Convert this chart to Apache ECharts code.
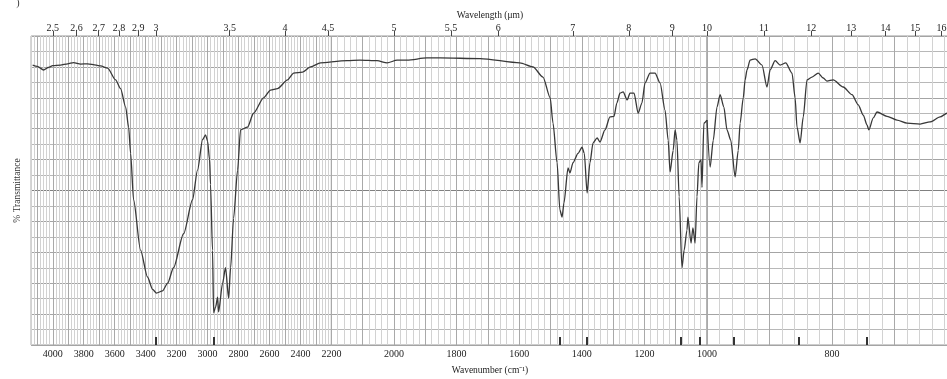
<!DOCTYPE html>
<html>
<head>
<meta charset="utf-8">
<title>IR spectrum</title>
<script src="https://cdn.jsdelivr.net/npm/echarts@6/dist/echarts.min.js"></script>
<style>
    html, body { margin: 0; padding: 0; background: #fff; }
    #chart { width: 947px; height: 379px; }
</style>
</head>
<body>
<div id="chart"></div>
<script>
// Spectrum trace: wavenumber (cm-1) and % transmittance
const wavenumber = [
    4130, 4100, 4059, 4030, 4000, 3950, 3904, 3866, 3820, 3775, 3720, 3691, 3646, 3594, 3562,
    3529, 3510, 3497, 3478, 3433, 3388, 3355, 3330, 3291, 3258, 3220, 3155, 3097, 3065, 3032,
    3013, 3000, 2987, 2981, 2968, 2961, 2948, 2935, 2929, 2903, 2884, 2864, 2851, 2832, 2806,
    2787, 2742, 2703, 2638, 2593, 2548, 2483, 2444, 2386, 2335, 2270, 2200, 2150, 2109, 2054,
    2022, 1990, 1958, 1895, 1853, 1725, 1598, 1556, 1524, 1501, 1492, 1479, 1470, 1463, 1457,
    1444, 1438, 1428, 1412, 1399, 1392, 1383, 1374, 1364, 1351, 1342, 1326, 1310, 1297, 1288,
    1278, 1268, 1255, 1246, 1233, 1220, 1208, 1198, 1182, 1166, 1150, 1134, 1124, 1118, 1108,
    1102, 1096, 1089, 1080, 1073, 1064, 1061, 1051, 1045, 1038, 1032, 1026, 1019, 1016, 1010,
    1000, 995, 990, 984, 979, 973, 968, 962, 955, 950, 947, 942, 939, 936, 931,
    923, 912, 904, 899, 891, 883, 874, 864, 859, 856, 851, 846, 840, 832, 822,
    814, 808, 798, 782, 768, 758, 750, 744, 741, 734, 728, 712, 696, 680, 659,
    643, 627, 616, 605
];
const transmittance = [
    90.6, 90.2, 89.0, 89.8, 90.4, 90.6, 91.0, 91.4, 90.9, 91.0, 90.6, 90.3, 89.6, 85.8, 83.0,
    77.0, 70.5, 62.0, 47.0, 30.7, 22.0, 18.0, 16.8, 17.5, 20.0, 25.0, 36.0, 47.0, 56.6, 66.5,
    68.0, 66.0, 60.0, 52.0, 30.7, 10.4, 12.3, 15.5, 10.7, 20.0, 25.0, 15.2, 25.0, 41.0, 56.6,
    69.6, 70.5, 75.0, 80.0, 82.5, 83.0, 85.8, 88.0, 88.3, 90.0, 91.3, 91.6, 92.0, 92.2, 92.0,
    91.3, 92.2, 92.2, 92.9, 92.9, 92.7, 91.3, 90.0, 86.7, 80.0, 71.8, 59.0, 43.7, 41.4, 46.0,
    57.3, 55.7, 59.0, 62.0, 64.0, 62.0, 49.2, 59.0, 65.4, 67.0, 65.7, 69.6, 73.8, 74.0, 78.3,
    81.5, 81.9, 79.3, 81.5, 81.5, 75.0, 78.3, 84.8, 88.0, 88.0, 84.8, 76.0, 66.3, 56.0, 63.0,
    69.6, 66.3, 48.0, 25.0, 30.7, 37.2, 41.4, 33.0, 37.9, 33.0, 48.0, 59.0, 60.0, 51.0, 71.8,
    72.8, 57.6, 66.3, 77.0, 81.0, 77.0, 69.6, 66.3, 54.4, 63.0, 71.8, 80.0, 85.8, 89.0, 92.2,
    92.6, 90.6, 83.5, 89.0, 92.0, 90.6, 91.3, 88.0, 80.0, 70.5, 65.4, 73.8, 85.8, 86.7, 88.0,
    86.4, 85.4, 85.8, 83.5, 81.0, 77.7, 74.4, 71.2, 69.6, 73.5, 75.4, 74.0, 72.8, 71.8, 71.5,
    72.2, 73.8, 75.0, 76.0
];

// Short bold marks along the bottom edge under the main bands
const peakMarks = [3335, 2961, 1470, 1383, 1083, 1022, 958, 854, 744];

// Tick labels
const wavenumberLabels = [4000, 3800, 3600, 3400, 3200, 3000, 2800, 2600, 2400, 2200,
    2000, 1800, 1600, 1400, 1200, 1000, 800, 600];
const wavelengthLabels = [2.5, 2.6, 2.7, 2.8, 2.9, 3, 3.5, 4, 4.5, 5, 5.5, 6, 7, 8, 9, 10,
    11, 12, 13, 14, 15, 16];

// The chart paper changes scale at 2200 and 1000 cm-1, so it is drawn as three panels
const panels = [
    { from: 4140, to: 2200, left: 31.1, width: 300.3 },
    { from: 2200, to: 1000, left: 331.4, width: 375.6 },
    { from: 1000, to: 600, left: 707, width: 250 }
];

const FONT = 'Liberation Serif';
const TOP = 36;
const HEIGHT = 309;

// every 5th vertical line (100 cm-1) is darker
const vLineColors = ['#a9a9a9', '#d2d2d2', '#d2d2d2', '#d2d2d2', '#d2d2d2'];
// horizontal lines every 5 %, the 50 % line darker
const hLineColors = [];
for (let i = 0; i <= 20; i++) hLineColors.push(i === 10 ? '#808080' : (i % 2 === 0 ? '#a4a4a4' : '#b8b8b8'));

const chart = echarts.init(document.getElementById('chart'));

const grid = [];
const xAxis = [];
const yAxis = [];
const series = [];

panels.forEach((p, i) => {
    const inPanel = v => v < p.from && v >= p.to;

    grid.push({
        left: p.left,
        width: p.width,
        top: TOP,
        height: HEIGHT,
        show: true,
        borderColor: '#9a9a9a',
        borderWidth: 1,
        outerBoundsMode: 'none',
        containLabel: false
    });

    // bottom: wavenumber
    xAxis.push({
        type: 'value',
        gridIndex: i,
        position: 'bottom',
        min: p.to,
        max: p.from,
        interval: 20,
        inverse: true,
        axisLine: { show: false },
        axisTick: { show: false },
        axisLabel: {
            customValues: wavenumberLabels.filter(inPanel),
            formatter: v => String(v),
            margin: 4,
            fontFamily: FONT,
            fontSize: 10,
            color: '#222'
        },
        splitLine: { show: true, lineStyle: { color: vLineColors, width: 1 } }
    });

    yAxis.push({
        type: 'value',
        gridIndex: i,
        min: 0,
        max: 100,
        interval: 5,
        name: i === 0 ? '% Transmittance' : '',
        nameLocation: 'middle',
        nameGap: 9,
        nameTextStyle: { fontFamily: FONT, fontSize: 9.5, color: '#333' },
        axisLine: { show: false },
        axisTick: { show: false },
        axisLabel: { show: false },
        splitLine: { show: true, lineStyle: { color: hLineColors, width: 1 } }
    });

    const segment = [];
    wavenumber.forEach((w, k) => {
        if (w <= p.from && w >= p.to) segment.push([w, transmittance[k]]);
    });

    series.push({
        type: 'line',
        xAxisIndex: i,
        yAxisIndex: i,
        data: segment,
        showSymbol: false,
        smooth: 0.25,
        smoothMonotone: 'x',
        lineStyle: { color: '#383838', width: 1.3 },
        silent: true,
        markLine: {
            silent: true,
            symbol: ['none', 'none'],
            label: { show: false },
            lineStyle: { color: '#333', width: 2, type: 'solid' },
            data: peakMarks.filter(inPanel).map(m => [
                { coord: [m, 0] },
                { coord: [m, 2.6] }
            ])
        }
    });
});

// top: wavelength in micrometres, placed at 10000 / wavelength
panels.forEach((p, i) => {
    const inPanel = v => v < p.from && v >= p.to;
    const ticks = wavelengthLabels.map(l => 10000 / l).filter(inPanel);
    xAxis.push({
        type: 'value',
        gridIndex: i,
        position: 'top',
        min: p.to,
        max: p.from,
        inverse: true,
        axisLine: { show: false },
        axisTick: {
            show: true,
            customValues: ticks,
            length: 5,
            lineStyle: { color: '#444', width: 1 }
        },
        axisLabel: {
            customValues: ticks,
            formatter: v => String(parseFloat((10000 / v).toFixed(1))),
            margin: 3,
            fontFamily: FONT,
            fontSize: 10,
            color: '#222'
        },
        splitLine: { show: false }
    });
});

const option = {
    animation: false,
    backgroundColor: '#fff',
    grid: grid,
    xAxis: xAxis,
    yAxis: yAxis,
    series: series,
    graphic: [
        {
            type: 'text', x: 490, y: 15,
            style: { text: 'Wavelength (μm)', font: '9.5px "Liberation Serif"', fill: '#222', align: 'center', verticalAlign: 'middle' }
        },
        {
            type: 'text', x: 490, y: 370,
            style: { text: 'Wavenumber (cm⁻¹)', font: '9.5px "Liberation Serif"', fill: '#222', align: 'center', verticalAlign: 'middle' }
        },
        {
            type: 'text', x: 18, y: 3,
            style: { text: ')', font: '10px "Liberation Serif"', fill: '#333', align: 'center', verticalAlign: 'middle' }
        }
    ]
};

chart.setOption(option);
window.addEventListener('resize', () => chart.resize());
</script>
</body>
</html>
